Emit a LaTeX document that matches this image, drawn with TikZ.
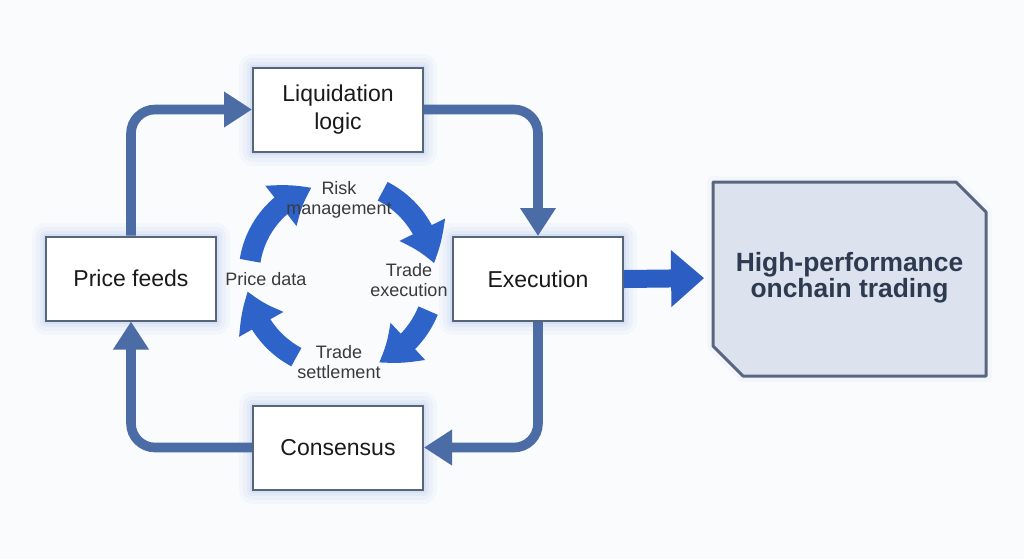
\documentclass[tikz,border=0pt]{standalone}
\usepackage{fontspec}
\setmainfont{Liberation Sans}
\usetikzlibrary{arrows.meta,bending}
\definecolor{bg}{HTML}{F9FBFD}
\definecolor{boxc}{HTML}{56657A}
\definecolor{glowc}{HTML}{3B6FD8}
\definecolor{connc}{HTML}{4C6CA6}
\definecolor{cycc}{HTML}{2E63C9}
\definecolor{bigc}{HTML}{2B5DC2}
\definecolor{hpfill}{HTML}{DDE3EE}
\definecolor{hpline}{HTML}{5A6680}
\definecolor{hptxt}{HTML}{2D3A50}
\definecolor{txt}{HTML}{1A1A1A}
\definecolor{labc}{HTML}{3A3A3A}
\tikzset{
  glow/.style={
    preaction={draw=glowc, draw opacity=0.03, line width=14pt, line join=round},
    preaction={draw=glowc, draw opacity=0.04, line width=10pt, line join=round},
    preaction={draw=glowc, draw opacity=0.05, line width=6pt, line join=round},
    preaction={draw=glowc, draw opacity=0.07, line width=3pt, line join=round}},
  box/.style={draw=boxc, line width=1pt, fill=white, minimum width=85pt,
    minimum height=42pt, align=center, inner sep=0pt,
    font=\fontsize{11.5}{14}\selectfont, text=txt, glow},
  conn/.style={draw=connc, line width=4.8pt, rounded corners=12pt,
    -{Triangle[width=17pt,length=14pt]}},
  cyc/.style={draw=cycc, line width=10.5pt, -{Triangle[width=24pt,length=18pt,bend]}},
  lab/.style={font=\fontsize{9}{10}\selectfont, text=labc, align=center, inner sep=0pt},
}
\begin{document}
\begin{tikzpicture}[x=0.5pt,y=-0.5pt]
\useasboundingbox[fill=bg] (0,0) rectangle (1024,559);

% boxes
\node[box] (liq) at (338,109.5) {Liquidation\\logic};
\node[box] (pf) at (131,278.5) {Price feeds};
\node[box] (ex) at (538,279) {Execution};
\node[box] (cons) at (338,447.5) {Consensus};

% outer connectors
\draw[conn] (pf.north) |- (liq.west);
\draw[conn] (liq.east) -| (ex.north);
\draw[conn] (ex.south) |- (cons.east);
\draw[conn] (cons.west) -| (pf.south);

% high-performance box
\coordinate (hpnw) at (713,182);
\coordinate (hpse) at (986,376);
\draw[hpline, fill=hpfill, line width=1.5pt, line join=round,
  preaction={draw=glowc, draw opacity=0.03, line width=6pt, line join=round}]
  (hpnw) -- (hpnw -| 956,0) -- (hpse |- 0,212) -- (hpse) -- (hpse -| 743,0)
  -- (hpnw |- 0,346) -- cycle;
\node[font=\bfseries\fontsize{13.2}{13.2}\selectfont, text=hptxt, align=center,
  minimum width=137pt, minimum height=97pt, inner sep=0pt] (hp) at (849.5,278)
  {High-performance\\onchain trading};

% big arrow
\draw[draw=bigc, line width=9pt, -{Triangle[width=27.5pt,length=16.5pt]},
  shorten >=4pt] (ex.east) -- (hp.west);

% inner cycle
\coordinate (cc) at (340,275);
\draw[cyc] (cc) ++(189:91) arc[start angle=189, end angle=252, radius=91];
\draw[cyc] (cc) ++(297:94) arc[start angle=297, end angle=353, radius=94];
\draw[cyc] (cc) ++(22:95) arc[start angle=22, end angle=66, radius=95];
\draw[cyc] (cc) ++(118:93) arc[start angle=118, end angle=170, radius=93];

\node[lab] (risk) at (339,200) {Risk\\management};
\node[lab] (texe) at (409,280) {Trade\\execution};
\node[lab] (tset) at (339,362) {Trade\\settlement};
\node[lab] (pdata) at (266,279) {Price data};
\end{tikzpicture}
\end{document}
